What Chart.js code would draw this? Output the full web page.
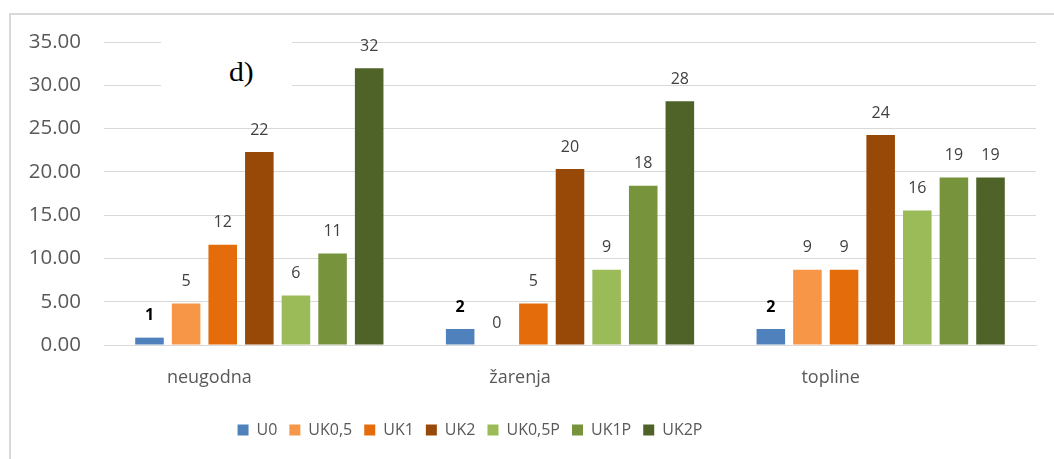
<!DOCTYPE html>
<html>
<head>
<meta charset="utf-8">
<script src="https://cdn.jsdelivr.net/npm/chart.js@4.4.1/dist/chart.umd.min.js"></script>
<style>
  html, body { margin: 0; padding: 0; background: #fff; }
  #wrap { position: relative; width: 1054px; height: 459px; overflow: hidden; }
  #frame { position: absolute; left: 9px; top: 13px; right: -4px; bottom: -4px; border-top: 2px solid #d9d9d9; border-left: 2px solid #d9d9d9; }
  #chart { position: absolute; left: 0; top: 0; }
  #tagbox { position: absolute; left: 161px; top: 36px; width: 131px; height: 57px; background: #fff; }
  #tag { position: absolute; left: 229px; top: 59px; font-family: "Liberation Serif", "DejaVu Serif", serif; font-size: 27px; line-height: 27px; color: #000; transform: scaleX(1.1); transform-origin: left top; }
</style>
</head>
<body>
<div id="wrap">
  <div id="frame"></div>
  <canvas id="chart" width="1054" height="459"></canvas>
  <div id="tagbox"></div>
  <div id="tag">d)</div>
</div>
<script>
const categories = ['neugodna', 'žarenja', 'topline'];
const seriesNames = ['U0', 'UK0,5', 'UK1', 'UK2', 'UK0,5P', 'UK1P', 'UK2P'];
const u0 = [0.85, 1.85, 1.85];
const uk05 = [4.79, 0, 8.69];
const uk1 = [11.59, 4.79, 8.69];
const uk2 = [22.29, 20.32, 24.26];
const uk05p = [5.72, 8.69, 15.55];
const uk1p = [10.58, 18.39, 19.35];
const uk2p = [31.98, 28.16, 19.35];
const yTicks = [0, 5, 10, 15, 20, 25, 30, 35];

const seriesValues = [u0, uk05, uk1, uk2, uk05p, uk1p, uk2p];
const seriesColors = ['#4f81bd', '#f79646', '#e46c0a', '#984807', '#9bbb59', '#77933c', '#4f6228'];
const FONT = '"Open Sans", "Liberation Sans", sans-serif';

// numbers above the bars, rounded like the original
const barLabels = {
  id: 'barLabels',
  afterDatasetsDraw(chart) {
    const { ctx } = chart;
    ctx.save();
    ctx.textAlign = 'center';
    ctx.textBaseline = 'middle';
    chart.data.datasets.forEach((ds, i) => {
      const meta = chart.getDatasetMeta(i);
      meta.data.forEach((bar, j) => {
        ctx.font = (i === 0 ? 'bold ' : '') + '16px ' + FONT;
        ctx.fillStyle = i === 0 ? '#000000' : '#404040';
        ctx.fillText(String(Math.round(ds.data[j])), bar.x, bar.y - 22);
      });
    });
    ctx.restore();
  }
};

// legend in the original sits left of the plot centre
const legendShift = {
  id: 'legendShift',
  afterLayout(chart) {
    const lg = chart.legend;
    const d = 470 - (lg.left + lg.right) / 2;
    lg.left += d;
    lg.right += d;
  }
};

new Chart(document.getElementById('chart').getContext('2d'), {
  type: 'bar',
  data: {
    labels: categories,
    datasets: seriesNames.map((name, i) => ({
      label: name,
      data: seriesValues[i],
      backgroundColor: seriesColors[i],
      borderWidth: 0,
      categoryPercentage: 0.825,
      barPercentage: 0.78
    }))
  },
  options: {
    responsive: false,
    animation: false,
    layout: { padding: { left: 10, right: 18, top: 42, bottom: 11 } },
    plugins: {
      tooltip: { enabled: false },
      legend: {
        display: true,
        position: 'bottom',
        labels: {
          boxWidth: 11,
          boxHeight: 11,
          padding: 12,
          color: '#595959',
          font: { family: FONT, size: 16 }
        }
      }
    },
    scales: {
      x: {
        grid: { display: false, drawTicks: false },
        border: { display: true, color: '#d9d9d9', width: 1 },
        ticks: {
          color: '#595959',
          padding: 22,
          labelOffset: -50,
          font: { family: FONT, size: 18 }
        },
        afterFit(scale) { scale.height = 65; }
      },
      y: {
        min: 0,
        max: 35,
        afterBuildTicks(scale) { scale.ticks = yTicks.map(v => ({ value: v })); },
        grid: { color: '#d9d9d9', lineWidth: 1, drawTicks: false },
        border: { display: false },
        ticks: {
          color: '#595959',
          padding: 23,
          font: { family: FONT, size: 20.5 },
          callback: v => Number(v).toFixed(2)
        },
        afterFit(scale) { scale.width = 94; }
      }
    }
  },
  plugins: [barLabels, legendShift]
});
</script>
</body>
</html>
